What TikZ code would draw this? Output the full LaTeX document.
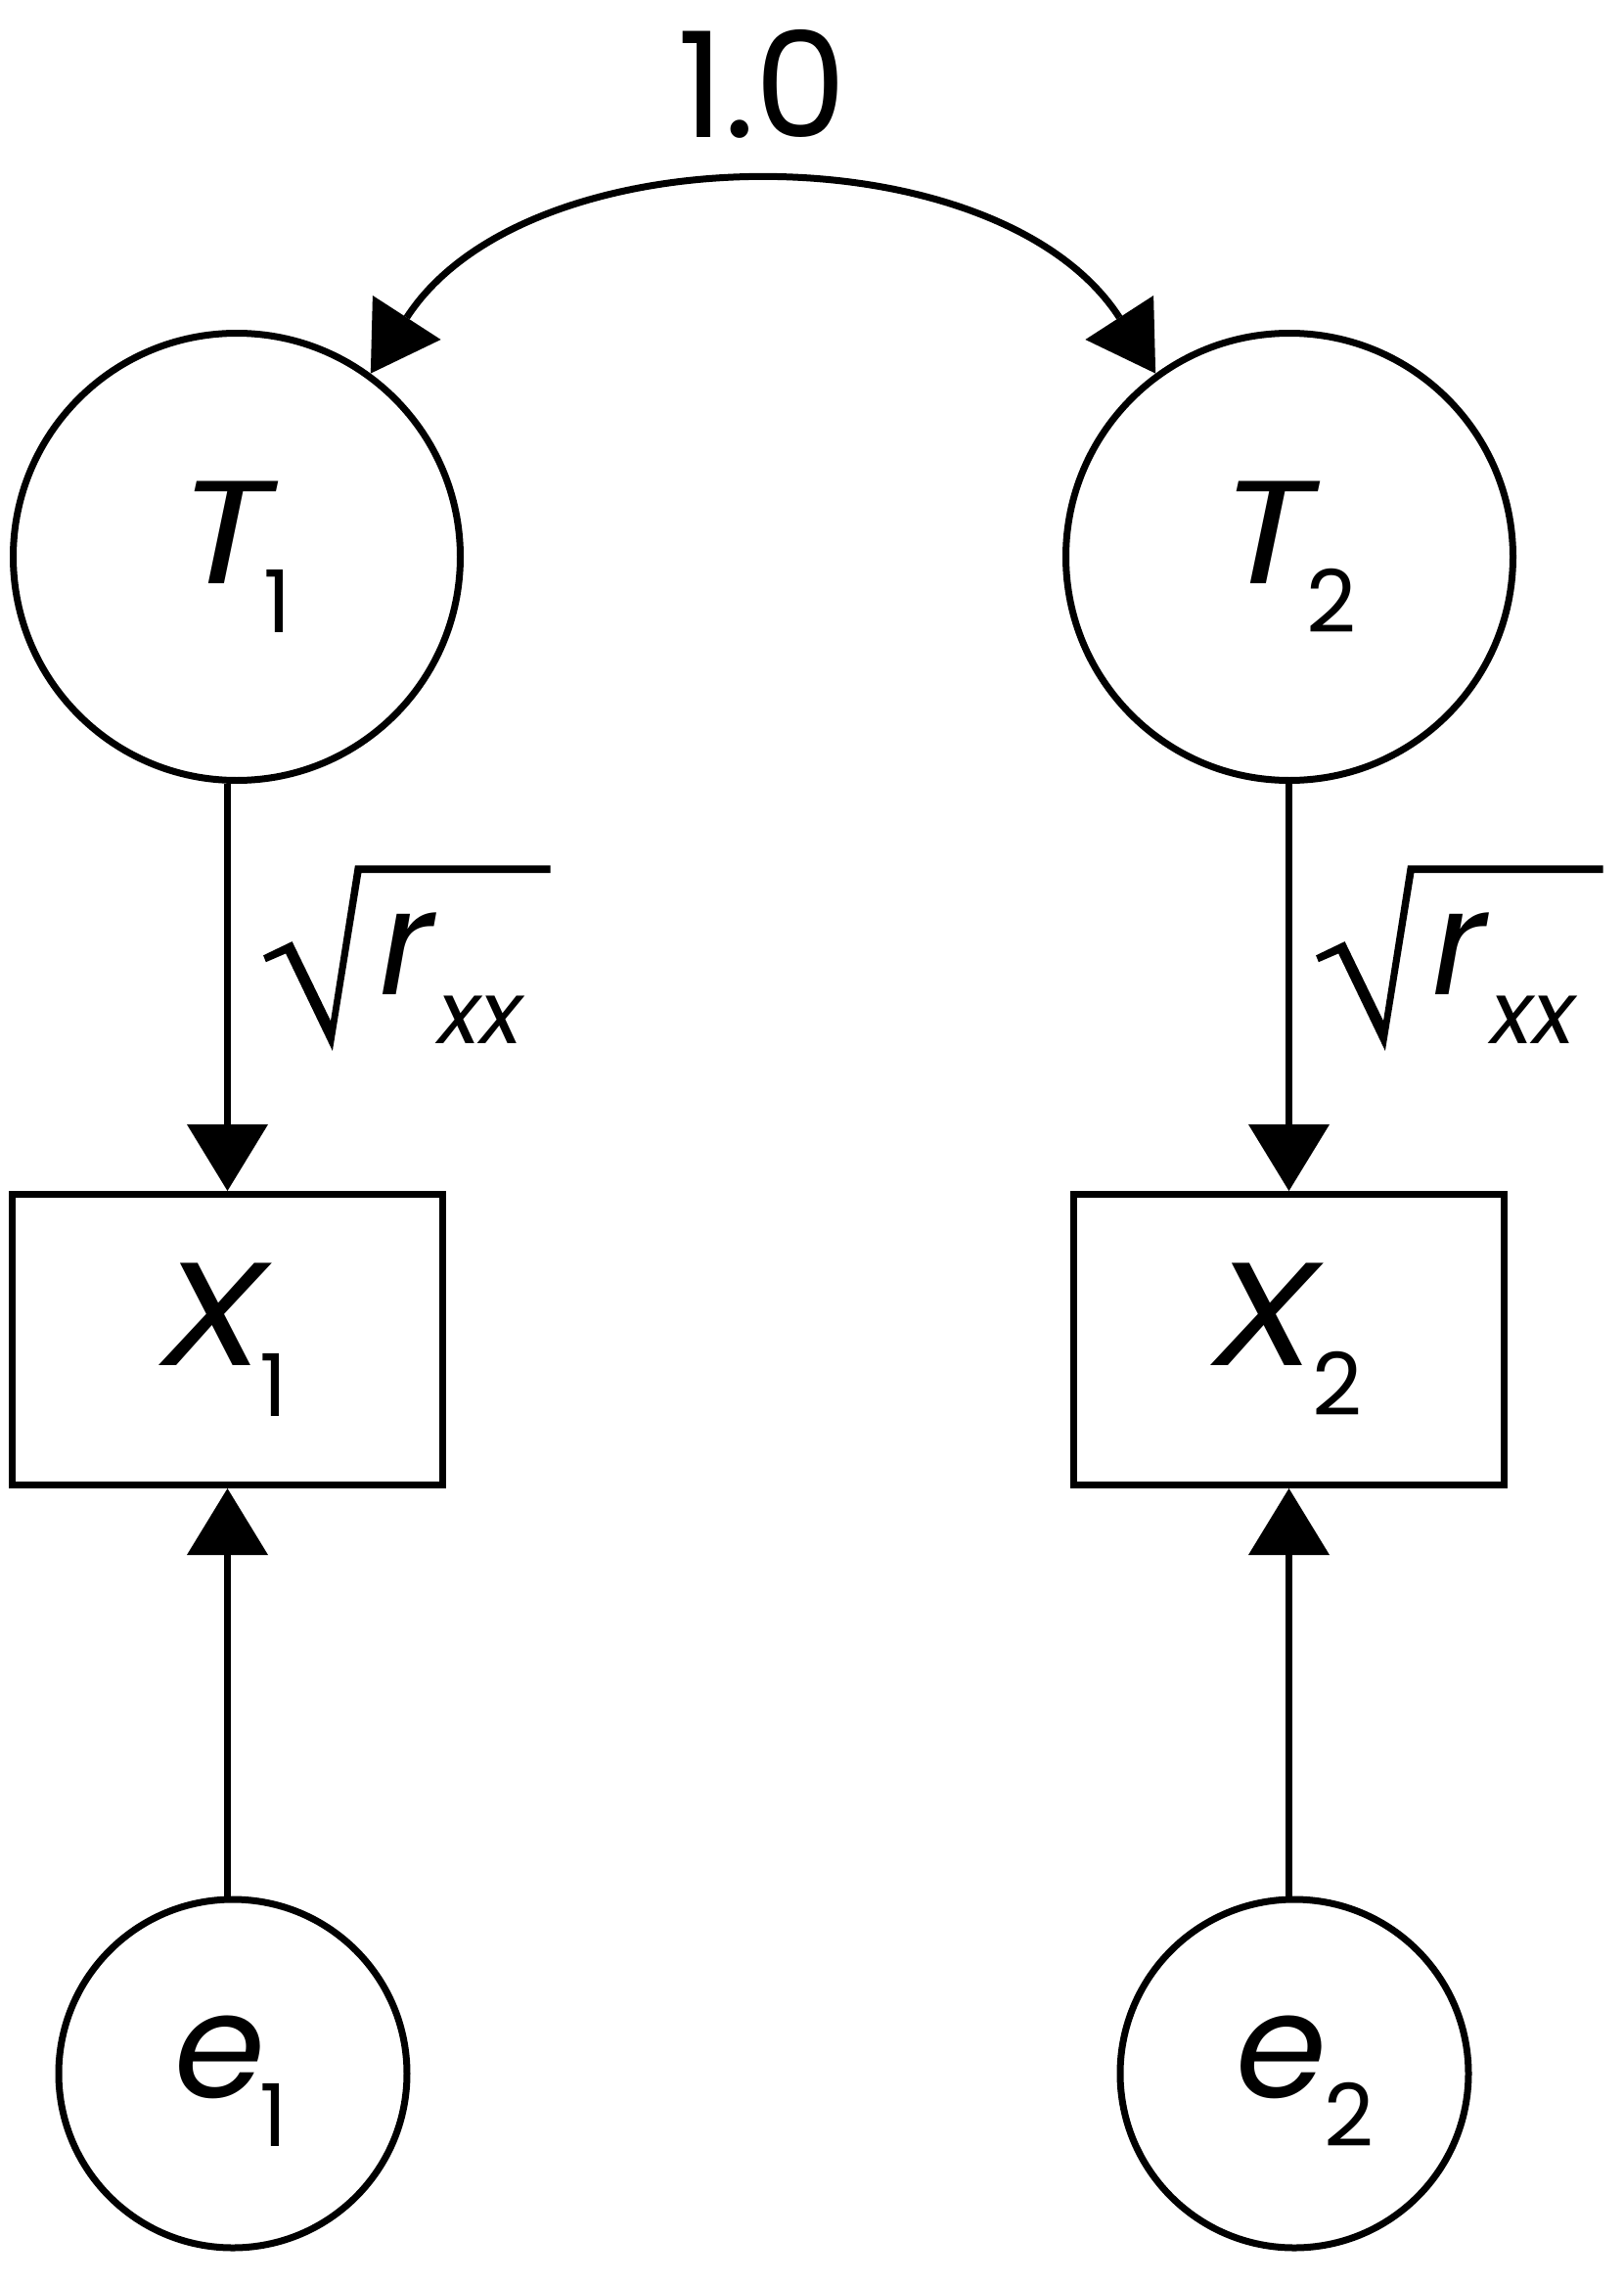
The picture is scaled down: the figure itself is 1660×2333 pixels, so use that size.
\documentclass[tikz,border=0pt]{standalone}
\usepackage{fontspec}
\setmainfont{Poppins}
\usetikzlibrary{arrows.meta,calc}
\newcommand{\mainsize}{\fontsize{45pt}{50pt}\selectfont}
\newcommand{\subsize}{\fontsize{26.6pt}{30pt}\selectfont}
\newcommand{\widecap}[1]{\scalebox{1.18}[1]{#1}}
% main letter centred on the node, subscript centred #3/2 to the right, lowered by #4
\newcommand{\sublabel}[4]{\makebox[0pt]{#1}\makebox[0pt]{\hspace*{#3}\raisebox{-#4}{\subsize #2}}}
\tikzset{
  conn/.style={line width=2.1pt},
  latent/.style={circle,draw,line width=2.1pt,inner sep=0pt,minimum size=137.1pt},
  errnode/.style={circle,draw,line width=2.1pt,inner sep=0pt,minimum size=106.8pt},
  obsbox/.style={rectangle,draw,line width=2.1pt,inner sep=0pt,minimum width=132pt,minimum height=89.1pt},
  mainlab/.style={anchor=base,inner sep=0pt,font=\mainsize\itshape},
  numlab/.style={anchor=base,inner sep=0pt,font=\mainsize},
  tiphead/.tip={Triangle[length=20.4pt,width=24.9pt,line width=0pt]},
  tip/.style={-tiphead},
  dtip/.style={tiphead-tiphead,shorten <=-20.4pt,shorten >=-20.4pt}
}
\newcommand{\radicalsign}[1]{%
  \fill[shift={(#1,0)}] (1345.1,976.3) -- (1374.6,962.1) -- (1414.0,1043.3) -- (1438.9,884.4)
    -- (1638.6,884.4) -- (1638.6,892.1) -- (1445.4,892.1) -- (1415.9,1073.9)
    -- (1368.1,974.4) -- (1347.8,983.2) -- cycle;}
\begin{document}
\begin{tikzpicture}[x=0.3pt,y=-0.3pt]
\useasboundingbox (0,0) rectangle (1660,2333);
% nodes
\node[latent] (T1) at (242,569) {};
\node[latent] (T2) at (1318,569) {};
\node[obsbox] (X1) at (232.5,1369) {};
\node[obsbox] (X2) at (1317.5,1369) {};
\node[errnode] (e1) at (238,2119) {};
\node[errnode] (e2) at (1323,2119) {};
% labels
\node[numlab] (cor) at (779,141) {1.0};
\node[mainlab] (T1lab) at (230.5,596) {\sublabel{\widecap{T}}{\upshape 1}{32.1pt}{15pt}};
\node[mainlab] (T2lab) at (1295.5,596) {\sublabel{\widecap{T}}{\upshape 2}{39pt}{15pt}};
\node[mainlab] (X1lab) at (218.5,1395) {\sublabel{\widecap{X}}{\upshape 1}{36.9pt}{15.6pt}};
\node[mainlab] (X2lab) at (1293,1395) {\sublabel{\widecap{X}}{\upshape 2}{44.1pt}{15.3pt}};
\node[mainlab] (e1lab) at (225,2143) {\sublabel{e}{\upshape 1}{33pt}{15pt}};
\node[mainlab] (e2lab) at (1309.5,2143) {\sublabel{e}{\upshape 2}{41.4pt}{15pt}};
% loading labels
\radicalsign{-1076}
\radicalsign{0}
\node[mainlab] (r1lab) at (415,1016) {\sublabel{r}{xx}{45.6pt}{15pt}};
\node[mainlab] (r2lab) at (1491,1016) {\sublabel{r}{xx}{45.6pt}{15pt}};
% connectors
\draw[conn,tip] (T1.south -| X1.north) -- (X1.north);
\draw[conn,tip] (T2.south -| X2.north) -- (X2.north);
\draw[conn,tip] (e1.north -| X1.south) -- (X1.south);
\draw[conn,tip] (e2.north -| X2.south) -- (X2.south);
\draw[conn,dtip] ($(T1.54)+(37.4,-56.8)$) .. controls (540,132.3) and (1020,132.3) .. ($(T2.126)+(-37.4,-56.8)$);
\end{tikzpicture}
\end{document}
